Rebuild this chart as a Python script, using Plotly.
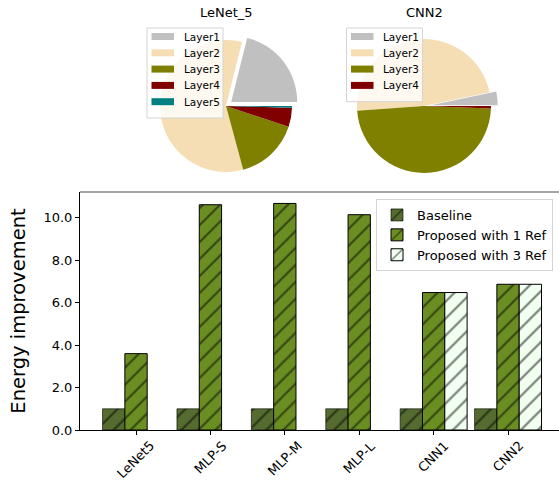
import plotly.graph_objects as go

# ---- data ----
models = ["LeNet5", "MLP-S", "MLP-M", "MLP-L", "CNN1", "CNN2"]
baseline = [1.0, 1.0, 1.0, 1.0, 1.0, 1.0]
proposed_1ref = [3.6, 10.62, 10.68, 10.15, 6.48, 6.87]
proposed_3ref = [None, None, None, None, 6.48, 6.87]

pie_labels_lenet = ["Layer1", "Layer2", "Layer3", "Layer4", "Layer5"]
pie_values_lenet = [0.211, 0.581, 0.157, 0.047, 0.004]
pie_labels_cnn2 = ["Layer1", "Layer2", "Layer3", "Layer4"]
pie_values_cnn2 = [0.033, 0.478, 0.483, 0.006]

ytick_vals = [0, 2, 4, 6, 8, 10]

# ---- geometry helpers ----
W, H = 559, 481
ML, MR, MT, MB = 80, 0, 0, 51
PW, PH = W - ML - MR, H - MT - MB


def px_x(x):
    return (x - ML) / PW


def px_y(y):
    return (H - MB - y) / PH


FONT = "DejaVu Sans"
layer_colors = ["#c0c0c0", "#f5deb3", "#808000", "#800000", "#008080"]

fig = go.Figure()
shapes = []
annots = []


def add_pie(labels, values, cx, cy, r, title, leg_x, leg_y):
    half = r * 1.1
    total = sum(values)
    # first slice starts at 3 o'clock and runs counterclockwise (matplotlib default)
    rot = 90 - 360 * values[0] / total
    fig.add_trace(go.Pie(
        labels=labels, values=values, sort=False,
        direction="counterclockwise", rotation=rot,
        pull=[0.1] + [0] * (len(values) - 1),
        marker=dict(colors=layer_colors[:len(values)], line=dict(width=0)),
        textinfo="none", hoverinfo="label+percent",
        domain=dict(x=[px_x(cx - half), px_x(cx + half)],
                    y=[px_y(cy + half), px_y(cy - half)]),
        showlegend=False,
    ))
    annots.append(dict(text=title, x=px_x(cx), y=px_y(12), xref="paper",
                       yref="paper", showarrow=False, xanchor="center",
                       yanchor="middle", font=dict(size=13)))
    # legend box (matplotlib-style)
    step = 16.3
    n = len(labels)
    box_w = 76
    box_h = 10 + step * n - 1.5
    shapes.append(dict(type="rect", xref="paper", yref="paper",
                       x0=px_x(leg_x), x1=px_x(leg_x + box_w),
                       y0=px_y(leg_y + box_h), y1=px_y(leg_y),
                       line=dict(color="#d4d4d4", width=1),
                       fillcolor="rgba(255,255,255,0.8)", layer="above"))
    for i, lab in enumerate(labels):
        yc = leg_y + 8.5 + step * i
        shapes.append(dict(type="rect", xref="paper", yref="paper",
                           x0=px_x(leg_x + 4.5), x1=px_x(leg_x + 27),
                           y0=px_y(yc + 3.5), y1=px_y(yc - 3.5),
                           line=dict(width=0), fillcolor=layer_colors[i],
                           layer="above"))
        annots.append(dict(text=lab, x=px_x(leg_x + 35.5), y=px_y(yc),
                           xref="paper", yref="paper", showarrow=False,
                           xanchor="left", yanchor="middle",
                           font=dict(size=10.5), borderpad=0))


add_pie(pie_labels_lenet, pie_values_lenet, 226, 106, 66, "LeNet_5", 147, 28)
add_pie(pie_labels_cnn2, pie_values_cnn2, 424, 106, 67, "CNN2", 346.5, 28)

bar_specs = [
    ("Baseline", baseline, "#556b2f", -0.45, "rgba(0,0,0,0.6)"),
    ("Proposed with 1 Ref", proposed_1ref, "#6b8e23", -0.15, "black"),
    ("Proposed with 3 Ref", proposed_3ref, "#f0fff0", 0.15, "black"),
]
for name, vals, col, off, edge in bar_specs:
    fig.add_trace(go.Bar(
        x=models, y=vals, name=name, width=0.3, offset=off,
        marker=dict(color=col, line=dict(color=edge, width=1),
                    pattern=dict(shape="/", fgcolor="black", bgcolor=col,
                                 size=12, solidity=0.18, fillmode="overlay")),
    ))

ytop = px_y(192)
shapes.append(dict(type="line", xref="paper", yref="paper", x0=0, x1=1,
                   y0=ytop, y1=ytop, line=dict(color="#888888", width=1.5)))

fig.update_layout(
    width=W, height=H,
    margin=dict(l=ML, r=MR, t=MT, b=MB, pad=0, autoexpand=False),
    paper_bgcolor="white", plot_bgcolor="white",
    font=dict(family=FONT, size=13, color="black"),
    barmode="overlay",
    xaxis=dict(type="category", range=[-0.753, 5.685], domain=[0, 1],
               showline=True, linecolor="black", linewidth=1,
               ticks="outside", ticklen=4, tickcolor="black",
               showticklabels=False, showgrid=False, zeroline=False,
               automargin=False),
    yaxis=dict(range=[0, 11.22], domain=[0, ytop],
               tickvals=ytick_vals, tickformat=".1f", ticksuffix="x",
               showline=True, linecolor="black", linewidth=1,
               ticks="outside", ticklen=4, tickcolor="black",
               tickfont=dict(size=13), showgrid=False, zeroline=False,
               automargin=False,
               title=dict(text="Energy improvement", font=dict(size=19.5),
                          standoff=12)),
    legend=dict(x=px_x(376), y=px_y(199), xanchor="left", yanchor="top",
                bgcolor="rgba(255,255,255,0.8)", bordercolor="#d4d4d4",
                borderwidth=1, font=dict(size=13), traceorder="normal"),
    shapes=shapes,
    showlegend=True,
)

for m in models:
    annots.append(dict(text=m, x=m, xref="x", y=px_y(437), yref="paper",
                       showarrow=False, textangle=-45, xanchor="center",
                       yanchor="top", font=dict(size=13), borderpad=0))
fig.update_layout(annotations=annots)

fig.write_html("out.html", config={"displayModeBar": False},
               post_script="document.body.style.margin='0';"
                           "document.body.style.padding='0';")
